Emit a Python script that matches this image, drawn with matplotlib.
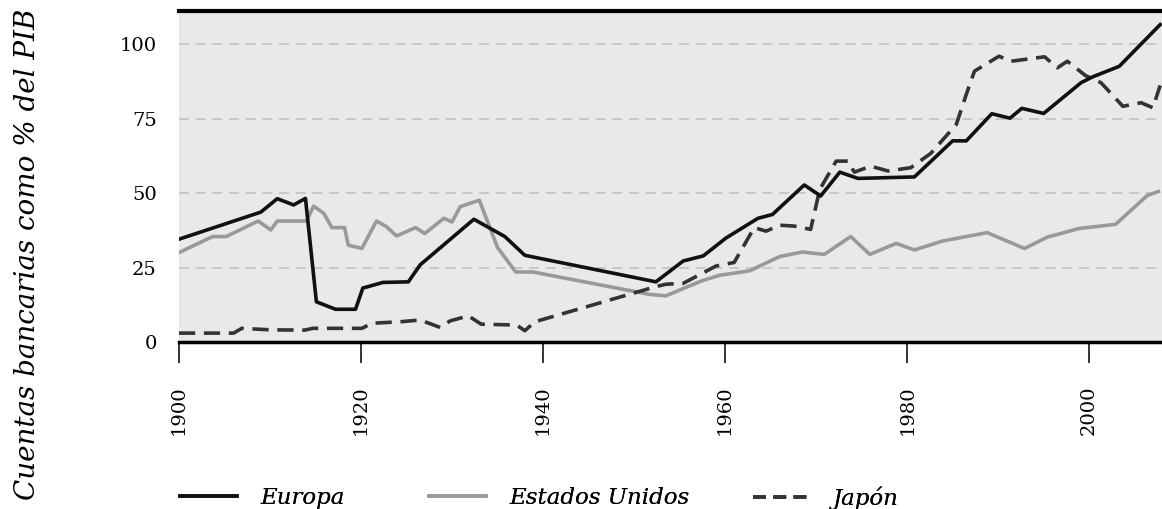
import matplotlib
matplotlib.use("Agg")
import matplotlib.pyplot as plt
from matplotlib.lines import Line2D

# values (year, % of GDP)
europa_years = [1900, 1909, 1910.8, 1912.6, 1913.9, 1915.1, 1917.2, 1919.4, 1920.2, 1922.4,
                1925.2, 1926.5, 1932.4, 1935.8, 1938.0, 1952.4, 1955.4, 1957.6, 1960.1,
                1963.6, 1965.2, 1968.7, 1970.5, 1972.6, 1974.6, 1980.8, 1985.0, 1986.5,
                1989.3, 1991.3, 1992.6, 1995.0, 1999.1, 2000.4, 2003.3, 2007.8]
europa_vals = [34.5, 43.6, 48.1, 46.0, 48.2, 13.5, 11.0, 11.0, 18.1, 20.0,
               20.2, 25.9, 41.2, 35.4, 29.1, 20.2, 27.2, 28.9, 34.9,
               41.5, 42.8, 52.7, 49.0, 57.0, 54.9, 55.4, 67.5, 67.5,
               76.6, 75.1, 78.4, 76.7, 87.0, 89.0, 92.5, 106.5]

eeuu_years = [1900, 1903.7, 1905.2, 1908.7, 1910.1, 1910.8, 1914.0, 1914.8, 1915.9, 1916.8,
              1918.2, 1918.6, 1920.1, 1921.7, 1922.8, 1923.9, 1926.0, 1927.0, 1929.1,
              1930.0, 1930.9, 1933.0, 1935.0, 1937.0, 1938.9, 1951.7, 1953.5, 1957.4,
              1959.4, 1962.7, 1966.0, 1968.5, 1970.9, 1973.8, 1975.9, 1978.8, 1980.8,
              1983.9, 1988.8, 1992.9, 1995.4, 1998.9, 2002.9, 2006.4, 2007.6]
eeuu_vals = [30.0, 35.4, 35.4, 40.6, 37.6, 40.6, 40.6, 45.6, 43.2, 38.4,
             38.4, 32.5, 31.4, 40.6, 38.7, 35.6, 38.4, 36.4, 41.5,
             40.3, 45.4, 47.6, 31.7, 23.5, 23.5, 16.0, 15.5, 20.5,
             22.4, 23.9, 28.7, 30.2, 29.4, 35.4, 29.4, 33.1, 30.9,
             33.9, 36.7, 31.4, 35.2, 38.1, 39.5, 49.2, 50.5]

japon_years = [1900, 1906.0, 1906.9, 1910.0, 1913.8, 1914.7, 1920.1, 1921.2, 1924.3, 1926.5,
               1928.7, 1929.8, 1931.8, 1933.2, 1937.1, 1938.0, 1939.1, 1952.4, 1953.5,
               1955.4, 1959.0, 1961.0, 1963.2, 1964.5, 1966.0, 1967.6, 1969.4, 1970.4,
               1972.2, 1973.5, 1974.2, 1976.0, 1977.9, 1980.4, 1982.6, 1985.4, 1986.5,
               1987.4, 1990.1, 1991.4, 1995.1, 1996.5, 1997.6, 1999.6, 2001.3, 2003.7,
               2005.7, 2007.0, 2007.8]
japon_vals = [3.0, 3.0, 4.6, 4.1, 4.0, 4.6, 4.6, 6.3, 6.8, 7.4,
              4.9, 7.1, 8.8, 6.0, 5.7, 3.8, 6.8, 18.6, 19.4,
              19.7, 25.5, 26.7, 38.4, 37.2, 39.2, 38.9, 37.8, 51.2,
              60.7, 60.7, 57.0, 59.0, 57.4, 58.5, 63.3, 73.0, 83.1,
              90.9, 95.9, 94.2, 95.7, 92.0, 94.2, 89.4, 87.0, 79.1,
              80.3, 78.6, 86.1]

x_ticks = [1900, 1920, 1940, 1960, 1980, 2000]
y_ticks = [0, 25, 50, 75, 100]
labels = ["Europa", "Estados Unidos", "Japón"]

plt.rcParams["font.family"] = ["DejaVu Serif"]

fig = plt.figure(figsize=(11.62, 5.09), dpi=100)
ax = fig.add_axes([0.154, 0.328, 0.846, 0.650])
ax.set_facecolor("#e9e9e9")

for y in y_ticks[1:]:
    ax.axhline(y, color="#c2c2c2", lw=1.2, ls=(0, (6, 4)), zorder=1)

lw = 2.6
ax.plot(europa_years, europa_vals, color="#111111", lw=lw, zorder=4)
ax.plot(eeuu_years, eeuu_vals, color="#999999", lw=lw, zorder=3)
ax.plot(japon_years, japon_vals, color="#333333", lw=lw, ls=(0, (4.5, 2.4)), zorder=3)

ax.set_xlim(1900, 2008)
ax.set_ylim(0, 111)
ax.set_xticks(x_ticks)
ax.set_xticklabels([str(t) for t in x_ticks], rotation=90)
ax.set_yticks(y_ticks)
ax.tick_params(axis="x", length=15, width=1.2, pad=16, labelsize=14, color="#111111")
ax.tick_params(axis="y", length=0, pad=16, labelsize=14)

for s in ["left", "right"]:
    ax.spines[s].set_visible(False)
ax.spines["top"].set_linewidth(3)
ax.spines["bottom"].set_linewidth(2.5)

fig.text(0.024, 0.5, "Cuentas bancarias como % del PIB", rotation=90, style="italic",
         fontsize=20, va="center", ha="center")

# one small legend per entry so each sits where the reference puts it
handles = [Line2D([], [], color="#111111", lw=lw),
           Line2D([], [], color="#999999", lw=lw),
           Line2D([], [], color="#333333", lw=lw, ls=(0, (3.6, 2.0)))]
legend_x = [0.155, 0.369, 0.648]
for h, lab, lx in zip(handles, labels, legend_x):
    lg = fig.legend([h], [lab], loc="center left", bbox_to_anchor=(lx, 0.022),
                    frameon=False, handlelength=2.5, handletextpad=1.0,
                    borderpad=0, borderaxespad=0, prop={"style": "italic", "size": 16.5})
    fig.add_artist(lg)

fig.savefig("out.png", dpi=100)
